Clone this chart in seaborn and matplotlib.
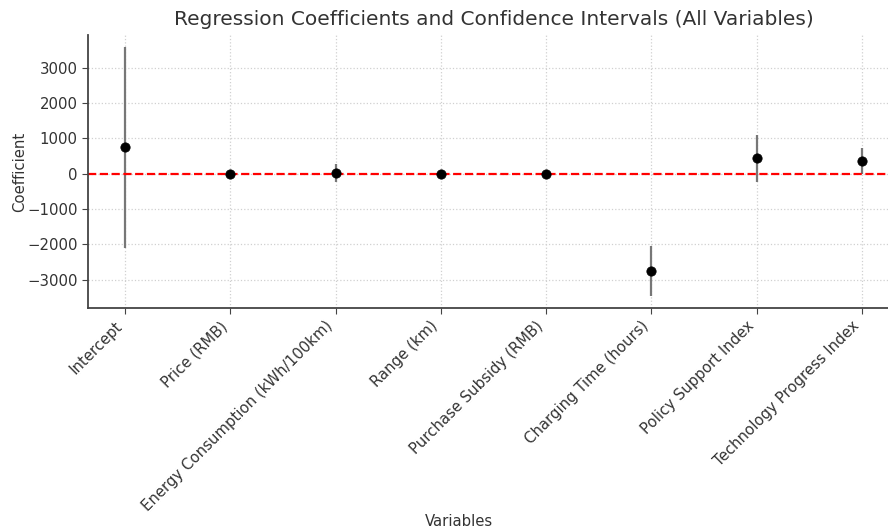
import matplotlib
matplotlib.use("Agg")
import matplotlib.pyplot as plt
import seaborn as sns
import pandas as pd

variables = ["Intercept", "Price (RMB)", "Energy Consumption (kWh/100km)", "Range (km)",
             "Purchase Subsidy (RMB)", "Charging Time (hours)", "Policy Support Index",
             "Technology Progress Index"]
coefficients = [740, 0.5, 10, 1, 0.2, -2760, 430, 357]
ci_lower = [-2090, -5, -240, -10, -3, -3450, -230, -10]
ci_upper = [3570, 6, 260, 12, 3, -2050, 1090, 725]

df = pd.DataFrame({"Variable": variables, "Coefficient": coefficients,
                   "Lower": ci_lower, "Upper": ci_upper})

sns.set_style("whitegrid", {"grid.linestyle": ":", "grid.color": "#cccccc",
                            "axes.edgecolor": "#444444", "xtick.bottom": True,
                            "ytick.left": True})
plt.rcParams["font.family"] = ["DejaVu Sans"]
text_color = "#333333"

fig = plt.figure(figsize=(8.88, 5.31), dpi=100)
ax = fig.add_axes([88 / 888, 1 - 308 / 531, 811 / 888, 273 / 531])

ax.vlines(df["Variable"], df["Lower"], df["Upper"], color="#777777", linewidth=1.6, zorder=2)
sns.scatterplot(data=df, x="Variable", y="Coefficient", color="black", s=45,
                edgecolor="black", ax=ax, zorder=3)
ax.axhline(0, color="red", linestyle="--", linewidth=1.6, zorder=2.5)

ax.set_xlim(-0.35, 7.35)
ax.set_yticks([-3000, -2000, -1000, 0, 1000, 2000, 3000])
ax.set_yticklabels(["\u22123000", "\u22122000", "\u22121000", "0", "1000", "2000", "3000"])
ax.grid(True, linestyle=":", color="#d0d0d0", linewidth=0.9)
sns.despine(ax=ax)
ax.spines["left"].set_linewidth(1.3)
ax.spines["bottom"].set_linewidth(1.3)

ax.tick_params(axis="both", labelsize=10.7, colors="#444444", labelcolor=text_color, length=4)
plt.setp(ax.get_xticklabels(), rotation=45, ha="right")
ax.set_title("Regression Coefficients and Confidence Intervals (All Variables)",
             fontsize=14.5, color=text_color, pad=7)
ax.set_xlabel("Variables", fontsize=10.7, color=text_color)
ax.set_ylabel("Coefficient", fontsize=10.7, color=text_color)
ax.xaxis.set_label_coords((459 - 88) / 811, -(514 - 308) / 273)
ax.yaxis.set_label_coords(-(88 - 20) / 811, 0.5)
ax.yaxis.label.set_verticalalignment("center")

fig.savefig("out.png", dpi=100)
